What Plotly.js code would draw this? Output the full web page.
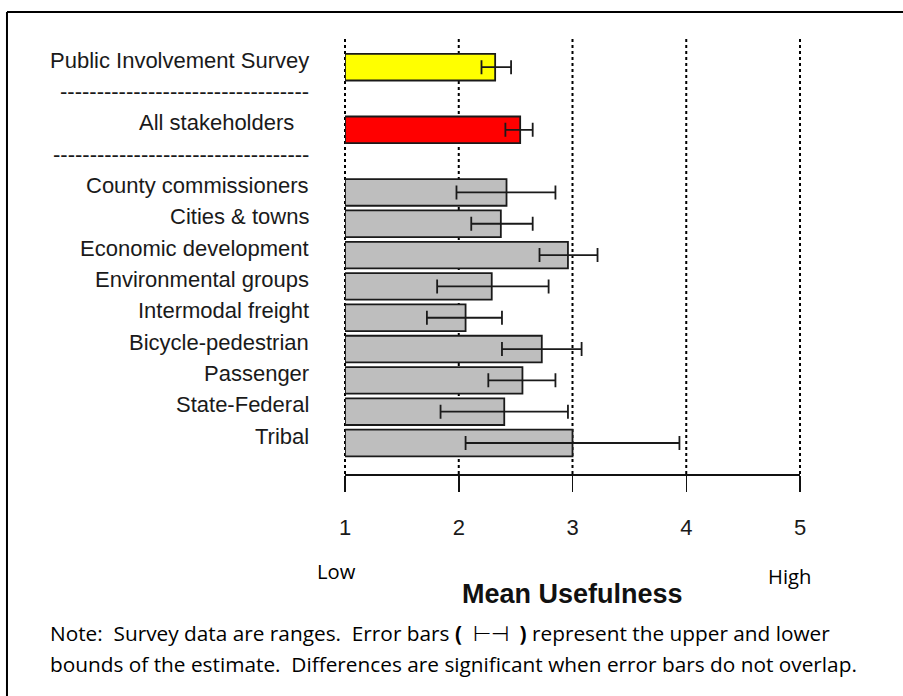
<!DOCTYPE html>
<html>
<head>
<meta charset="utf-8">
<script src="https://cdn.plot.ly/plotly-3.0.1.min.js"></script>
<style>html,body{margin:0;padding:0;background:#fff;}#chart{width:903px;height:696px;}</style>
</head>
<body>
<div id="chart"></div>
<script>
// ---- data ----
const categories = ["Public Involvement Survey", "All stakeholders", "County commissioners", "Cities & towns",
  "Economic development", "Environmental groups", "Intermodal freight", "Bicycle-pedestrian",
  "Passenger", "State-Federal", "Tribal"];
const means = [2.32, 2.54, 2.42, 2.37, 2.96, 2.29, 2.06, 2.73, 2.56, 2.40, 3.00];
const lower = [2.20, 2.41, 1.98, 2.11, 2.71, 1.81, 1.72, 2.38, 2.26, 1.84, 2.06];
const upper = [2.46, 2.65, 2.85, 2.65, 3.22, 2.79, 2.38, 3.08, 2.85, 2.96, 3.94];
const xTicks = [1, 2, 3, 4, 5];
const separatorLabels = ["----------------------------------", "-----------------------------------"];
const axisTitle = "Mean Usefulness";
const lowLabel = "Low";
const highLabel = "High";
const noteLine1 = "Note:\u00a0 Survey data are ranges.\u00a0 Error bars <b>(</b>\u00a0 \u22a2\u22a3 \u00a0<b>)</b> represent the upper and lower";
const noteLine2 = "bounds of the estimate.\u00a0 Differences are significant when error bars do not overlap.";

// ---- layout helpers ----
const xRange = [1, 5];
const yPos = categories.map((c, i) => i === 0 ? 12 : (i === 1 ? 10 : 10 - i));
const sepPos = [11, 9];
const barColors = categories.map((c, i) => i === 0 ? "#ffff00" : (i === 1 ? "#ff0000" : "#bebebe"));
const labelFont = {family: "Liberation Sans, Arial, sans-serif", size: 22, color: "#1a1a1a"};
const calFont = {family: "'Open Sans', Lato, sans-serif", size: 20.2, color: "#000"};
const noteFont = {family: "'Open Sans', Lato, sans-serif", size: 20.8, color: "#000"};

const bars = {
  type: "bar", orientation: "h",
  y: yPos, x: means.map(v => v - 1), base: 1,
  width: 0.85,
  marker: {color: barColors, line: {color: "#1a1a1a", width: 1.8}},
  hoverinfo: "skip", showlegend: false
};
const errs = {
  type: "scatter", mode: "markers",
  x: means, y: yPos,
  marker: {size: 1, color: "rgba(0,0,0,0)"},
  error_x: {type: "data", symmetric: false,
    array: upper.map((u, i) => u - means[i]),
    arrayminus: lower.map((l, i) => means[i] - l),
    color: "#1a1a1a", thickness: 1.8, width: 7},
  hoverinfo: "skip", showlegend: false
};

const annotations = [];
categories.forEach((c, i) => {
  annotations.push({xref: "paper", yref: "y", x: 0, y: yPos[i], xanchor: "right", yanchor: "middle",
    xshift: i === 1 ? -49 : -34, yshift: 7, text: c, showarrow: false, font: labelFont});
});
sepPos.forEach((p, i) => {
  annotations.push({xref: "paper", yref: "y", x: 0, y: p, xanchor: "right", yanchor: "middle",
    xshift: -34, yshift: 7, text: separatorLabels[i], showarrow: false, font: labelFont});
});
annotations.push({xref: "paper", yref: "paper", x: 0.5, y: -0.276, xanchor: "center", yanchor: "middle",
  text: "<b>" + axisTitle + "</b>", showarrow: false,
  font: {family: "Liberation Sans, Arial, sans-serif", size: 27, color: "#111"}});
annotations.push({xref: "paper", yref: "paper", x: -0.0176, y: -0.222, xanchor: "center", yanchor: "middle",
  text: lowLabel, showarrow: false, font: calFont});
annotations.push({xref: "paper", yref: "paper", x: 0.977, y: -0.234, xanchor: "center", yanchor: "middle",
  text: highLabel, showarrow: false, font: calFont});
annotations.push({xref: "paper", yref: "paper", x: -0.6527, y: -0.366, xanchor: "left", yanchor: "middle",
  text: noteLine1, showarrow: false, font: noteFont});
annotations.push({xref: "paper", yref: "paper", x: -0.6527, y: -0.437, xanchor: "left", yanchor: "middle",
  text: noteLine2, showarrow: false, font: noteFont});

// dotted reference lines at each tick (paper x so the edge lines are not clipped)
const shapes = xTicks.map(t => {
  const px = (t - xRange[0]) / (xRange[1] - xRange[0]);
  return {type: "line", xref: "paper", yref: "paper", x0: px, x1: px, y0: 0, y1: 1,
    layer: "below", line: {color: "#000", width: 2, dash: "dot"}};
});
// outer frame (top and left edges)
shapes.push({type: "line", xref: "paper", yref: "paper", x0: -0.7429, x1: 1.23, y0: 1.062, y1: 1.062,
  line: {color: "#000", width: 2}});
shapes.push({type: "line", xref: "paper", yref: "paper", x0: -0.7429, x1: -0.7429, y0: 1.062, y1: -0.52,
  line: {color: "#000", width: 2}});

const layout = {
  width: 903, height: 696,
  margin: {l: 345, r: 103, t: 39, b: 222, pad: 0},
  paper_bgcolor: "#fff", plot_bgcolor: "#fff",
  showlegend: false,
  xaxis: {range: xRange, tickvals: xTicks, ticks: "outside", ticklen: 16, tickwidth: 1.5, tickcolor: "#111",
    showline: true, linecolor: "#111", linewidth: 1.5, showgrid: false, zeroline: false,
    ticklabelstandoff: 17, tickfont: labelFont, fixedrange: true},
  yaxis: {range: [-0.99, 12.9], showticklabels: false, ticks: "", showgrid: false, zeroline: false,
    showline: false, fixedrange: true},
  annotations: annotations,
  shapes: shapes,
  bargap: 0.15
};

Plotly.newPlot("chart", [bars, errs], layout, {displayModeBar: false, staticPlot: true});
</script>
</body>
</html>
